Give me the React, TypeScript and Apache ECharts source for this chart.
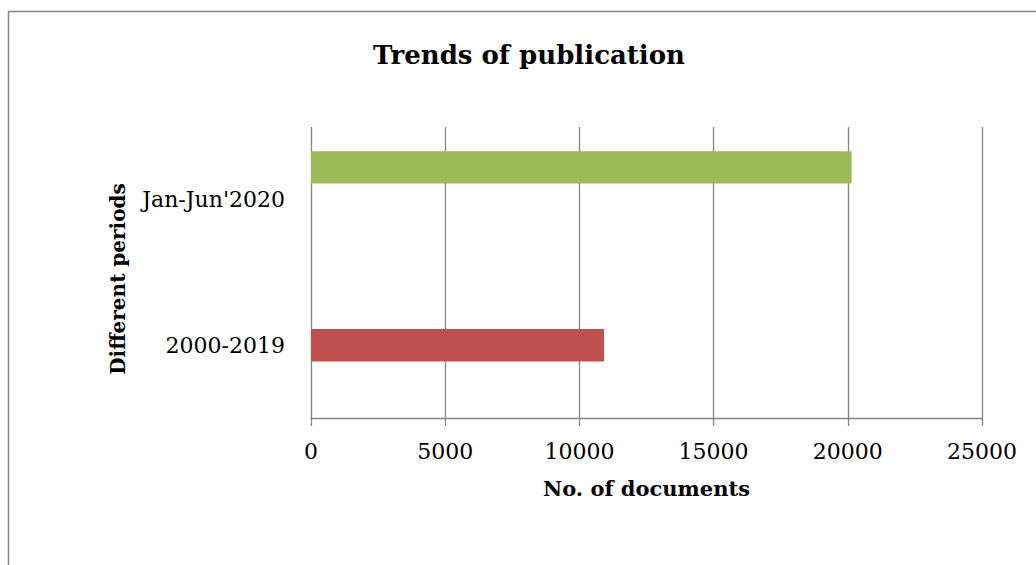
import React, { useEffect, useRef } from "react";
import * as echarts from "echarts";

// Periods on the category axis, listed bottom to top
const periods = ["2000-2019", "Jan-Jun'2020"];
// Three clustered series; only two of them carry values
const seriesGreen = [null, 20140];
const seriesRed = [10920, null];
const seriesBlue = [null, null];
// Value axis ticks
const xMin = 0;
const xMax = 25000;
const xStep = 5000;

const FONT = "'DejaVu Serif', 'Liberation Serif', serif";
const GRID = "#868686";

export default function App() {
  const ref = useRef<HTMLDivElement>(null);

  useEffect(() => {
    if (!ref.current) return;
    const chart = echarts.init(ref.current, null, { renderer: "svg" });
    const barCommon = { type: "bar", barGap: "0%", barCategoryGap: "33.3%" };
    chart.setOption({
      animation: false,
      backgroundColor: "#ffffff",
      graphic: [
        {
          type: "rect",
          shape: { x: 8.5, y: 11.5, width: 1200, height: 700 },
          style: { fill: "none", stroke: GRID, lineWidth: 1.5 },
          silent: true,
          z: -1,
        },
        {
          type: "text",
          x: 529,
          y: 55,
          style: {
            text: "Trends of publication",
            font: `bold 26px ${FONT}`,
            fill: "#000",
            align: "center",
            verticalAlign: "middle",
          },
        },
      ],
      grid: { left: 311, right: 54, top: 127, bottom: 147, containLabel: false },
      xAxis: {
        type: "value",
        min: xMin,
        max: xMax,
        interval: xStep,
        name: "No. of documents",
        nameLocation: "middle",
        nameGap: 60,
        nameTextStyle: { fontFamily: FONT, fontWeight: "bold", fontSize: 21, color: "#000" },
        axisLine: { show: true, lineStyle: { color: GRID, width: 1.3 } },
        axisTick: { show: true, length: 8, lineStyle: { color: GRID, width: 1.3 } },
        axisLabel: {
          fontFamily: FONT,
          fontSize: 22,
          color: "#000",
          margin: 22,
          formatter: (v: number) => String(v),
        },
        splitLine: { show: true, lineStyle: { color: GRID, width: 1.3 } },
      },
      yAxis: {
        type: "category",
        data: periods,
        name: "Different periods",
        nameLocation: "middle",
        nameGap: 183,
        nameRotate: 90,
        nameTextStyle: {
          fontFamily: FONT,
          fontWeight: "bold",
          fontSize: 20,
          color: "#000",
          padding: [0, 13, 0, 0],
        },
        axisLine: { show: false },
        axisTick: { show: false },
        axisLabel: { fontFamily: FONT, fontSize: 22, color: "#000", margin: 26 },
        splitLine: { show: false },
      },
      series: [
        { ...barCommon, data: seriesGreen, itemStyle: { color: "#9BBB59" } },
        { ...barCommon, data: seriesRed, itemStyle: { color: "#C0504D" } },
        { ...barCommon, data: seriesBlue, itemStyle: { color: "#4F81BD" } },
      ],
    });
    return () => chart.dispose();
  }, []);

  return (
    <div
      ref={ref}
      style={{ position: "fixed", left: 0, top: 0, width: 1036, height: 565, overflow: "hidden" }}
    />
  );
}
